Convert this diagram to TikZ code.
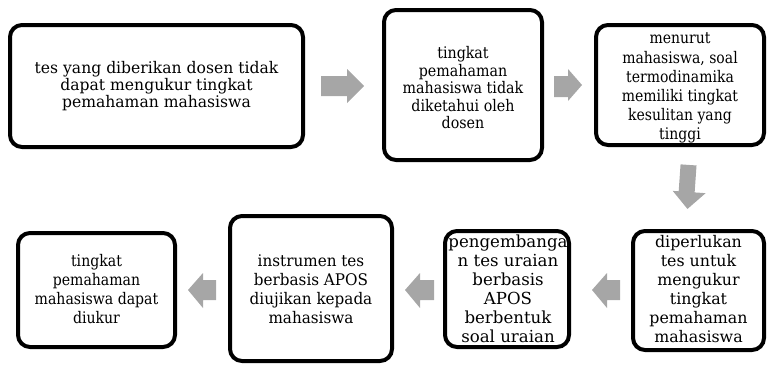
\documentclass[tikz,border=0pt]{standalone}
\usepackage{fontspec}
\setmainfont{DejaVu Serif}
\definecolor{arrowgray}{HTML}{A6A6A6}
\tikzset{
  boxtext/.style={inner sep=0pt, text=black},
  boxframe/.style={draw=black, line width=4pt, rounded corners=12pt, inner sep=0pt},
  blockarrow/.style={fill=arrowgray, draw=none},
}
\newcommand{\fs}[2]{\fontsize{#1}{#2}\selectfont}
% #1 horizontal squeeze, #2 font size, #3 line spacing, #4 lines
\newcommand{\sqz}[4]{\scalebox{#1}[1]{\fs{#2}{#3}\begin{tabular}{@{}c@{}}#4\end{tabular}}}
\begin{document}
\begin{tikzpicture}[x=1pt,y=-1pt]
\useasboundingbox (0,0) rectangle (768,364);
% texts
\node[boxtext] (t1) at (156.5,87) {\sqz{0.975}{16}{17.3}{tes yang diberikan dosen tidak\\dapat mengukur tingkat\\pemahaman mahasiswa}};
\node[boxtext] (t2) at (463,90) {\sqz{0.89}{16}{17.5}{tingkat\\pemahaman\\mahasiswa tidak\\diketahui oleh\\dosen}};
\node[boxtext] (t3) at (680,88) {\sqz{0.875}{16}{19.2}{menurut\\mahasiswa, soal\\termodinamika\\memiliki tingkat\\kesulitan yang\\tinggi}};
\node[boxtext] (t6) at (698.5,291) {\sqz{0.99}{16}{19}{diperlukan\\tes untuk\\mengukur\\tingkat\\pemahaman\\mahasiswa}};
\node[boxtext] (t5) at (508,291) {\sqz{1}{16.6}{19}{pengembanga\\n tes uraian\\berbasis\\APOS\\berbentuk\\soal uraian}};
\node[boxtext] (t4) at (311,291) {\sqz{0.95}{16}{19}{instrumen tes\\berbasis APOS\\diujikan kepada\\mahasiswa}};
\node[boxtext] (t7) at (96.5,291) {\sqz{0.88}{16}{19}{tingkat\\pemahaman\\mahasiswa dapat\\diukur}};
% frames
\node[boxframe, minimum width=293, minimum height=122] (b1) at (156.5,86) {};
\node[boxframe, minimum width=158, minimum height=150] (b2) at (463,85) {};
\node[boxframe, minimum width=168, minimum height=120] (b3) at (680,85) {};
\node[boxframe, minimum width=131, minimum height=119] (b6) at (698.5,290.5) {};
\node[boxframe, minimum width=124, minimum height=116] (b5) at (507,289) {};
\node[boxframe, minimum width=162, minimum height=145] (b4) at (311,288.5) {};
\node[boxframe, minimum width=157, minimum height=114] (b7) at (96.5,290) {};
% block arrows
\fill[blockarrow] (321,76) -- (347,76) -- (347,69) -- (364,86) -- (347,103) -- (347,96) -- (321,96) -- cycle;
\fill[blockarrow] (554,76) -- (568,76) -- (568,69) -- (582,85) -- (568,101) -- (568,97) -- (554,97) -- cycle;
\begin{scope}[rotate around={-4:(689,187)}]
\fill[blockarrow] (679,165) -- (695,165) -- (695,192) -- (706,192) -- (689,209) -- (673,192) -- (679,192) -- cycle;
\end{scope}
\fill[blockarrow] (620,280) -- (607,280) -- (607,273) -- (592,290) -- (607,308) -- (607,300) -- (620,300) -- cycle;
\fill[blockarrow] (434,280) -- (420,280) -- (420,273) -- (405,290) -- (420,308) -- (420,300) -- (434,300) -- cycle;
\fill[blockarrow] (216,280) -- (203,280) -- (203,273) -- (188,290) -- (203,308) -- (203,300) -- (216,300) -- cycle;
\end{tikzpicture}
\end{document}
